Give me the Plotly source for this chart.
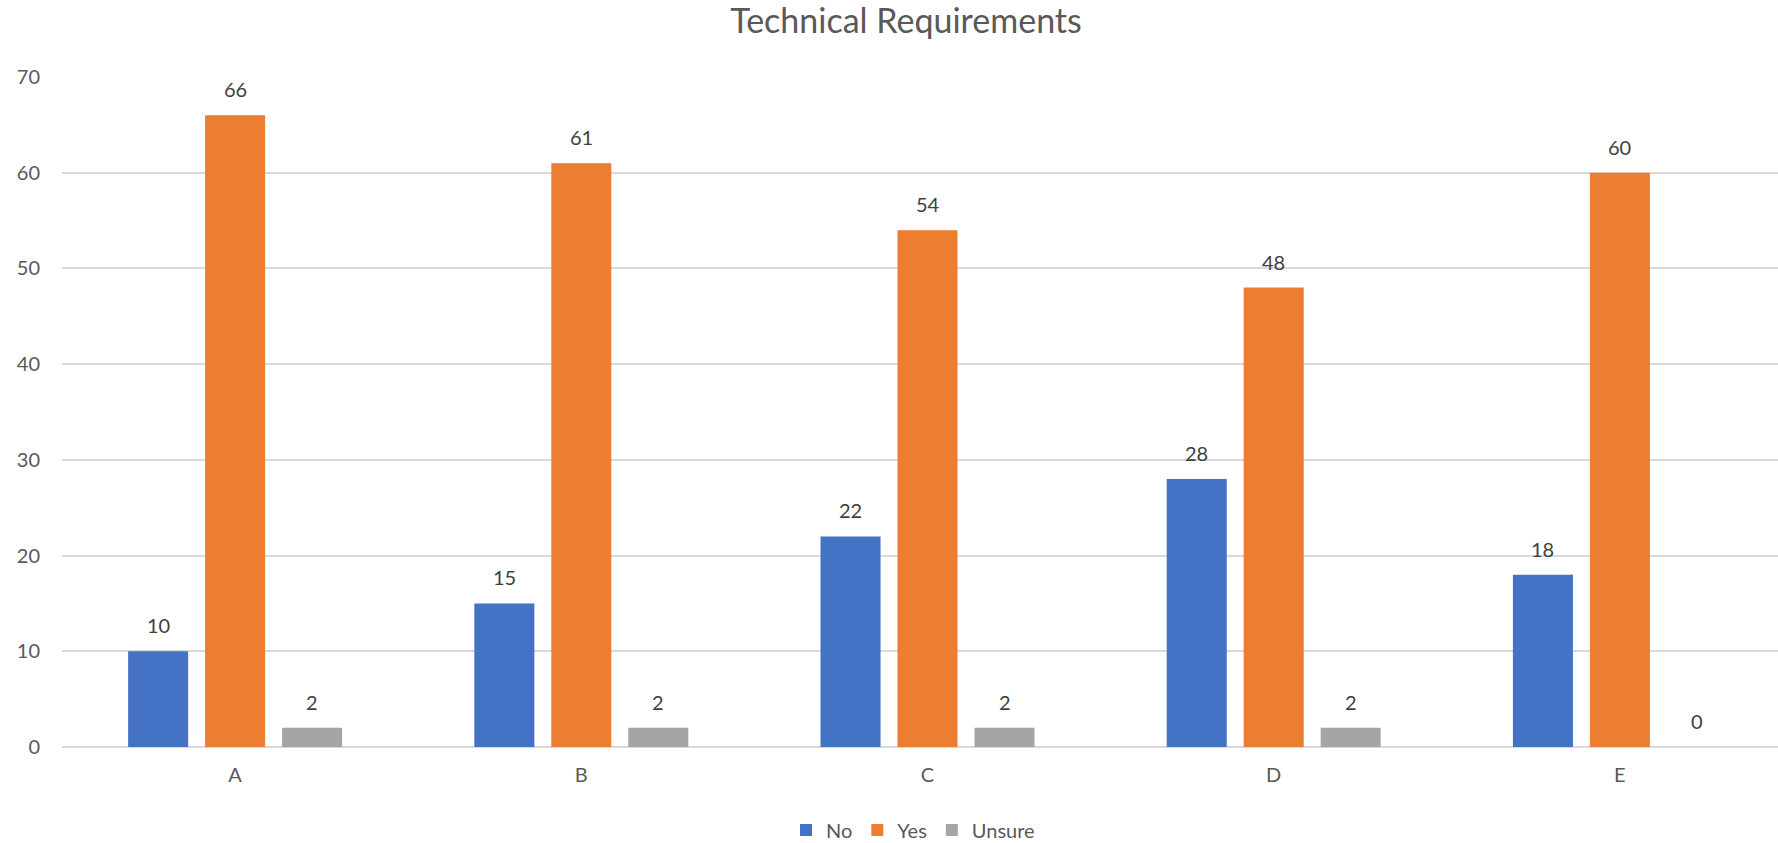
import plotly.graph_objects as go

categories = ["A", "B", "C", "D", "E"]
no_vals = [10, 15, 22, 28, 18]
yes_vals = [66, 61, 54, 48, 60]
unsure_vals = [2, 2, 2, 2, 0]
y_ticks = [0, 10, 20, 30, 40, 50, 60, 70]

FONT = "Lato"
TXT = "#595959"

series = [
    ("No", no_vals, "#4472C4"),
    ("Yes", yes_vals, "#ED7D31"),
    ("Unsure", unsure_vals, "#A5A5A5"),
]

W, H = 1778, 843
L, R, T, B = 62, 0, 77, 96
CAT_PX = 346.25
SLOT_PX = 77

fig = go.Figure()
annotations = []
for i, (name, vals, col) in enumerate(series):
    fig.add_trace(go.Bar(
        x=categories, y=vals, name=name,
        marker=dict(color=col, line=dict(width=0)),
        cliponaxis=False,
    ))
    for c, v in zip(categories, vals):
        annotations.append(dict(
            x=c, y=v, xref="x", yref="y", text=str(v), showarrow=False,
            xshift=(i - 1) * SLOT_PX, yshift=26, yanchor="middle",
            xanchor="center",
            font=dict(family=FONT, size=20, color="#404040"),
        ))

fig.update_layout(
    width=W, height=H,
    margin=dict(l=L, r=R, t=T, b=B, autoexpand=False),
    paper_bgcolor="white", plot_bgcolor="white",
    font=dict(family=FONT, size=20, color=TXT),
    title=dict(text="Technical Requirements", x=906 / W, xanchor="center",
               y=1 - 21 / H, yanchor="middle",
               font=dict(family=FONT, size=34, color=TXT)),
    barmode="group", bargap=0.333, bargroupgap=0.22,
    showlegend=True,
    legend=dict(orientation="h", x=(913 - L) / (W - L), xanchor="center",
                y=1 - 830 / H, yref="container", yanchor="middle",
                font=dict(family=FONT, size=20, color=TXT),
                itemsizing="constant", traceorder="normal",
                itemwidth=30, tracegroupgap=0),
    annotations=annotations,
    xaxis=dict(range=[-0.5, 4.5 - 15 / CAT_PX], showgrid=False,
               showline=False, zeroline=False, ticks="", automargin=False,
               ticklabelstandoff=14,
               tickfont=dict(family=FONT, size=20, color=TXT)),
    yaxis=dict(range=[0, 70], tickvals=y_ticks, showgrid=True,
               gridcolor="#D9D9D9", gridwidth=1.5, zeroline=True,
               zerolinecolor="#D9D9D9", zerolinewidth=1.5, showline=False,
               ticks="outside", ticklen=17, tickcolor="rgba(0,0,0,0)",
               automargin=False,
               tickfont=dict(family=FONT, size=20, color=TXT)),
)

fig.write_html("out.html", config={"displayModeBar": False},
               post_script="document.body.style.margin='0';")
